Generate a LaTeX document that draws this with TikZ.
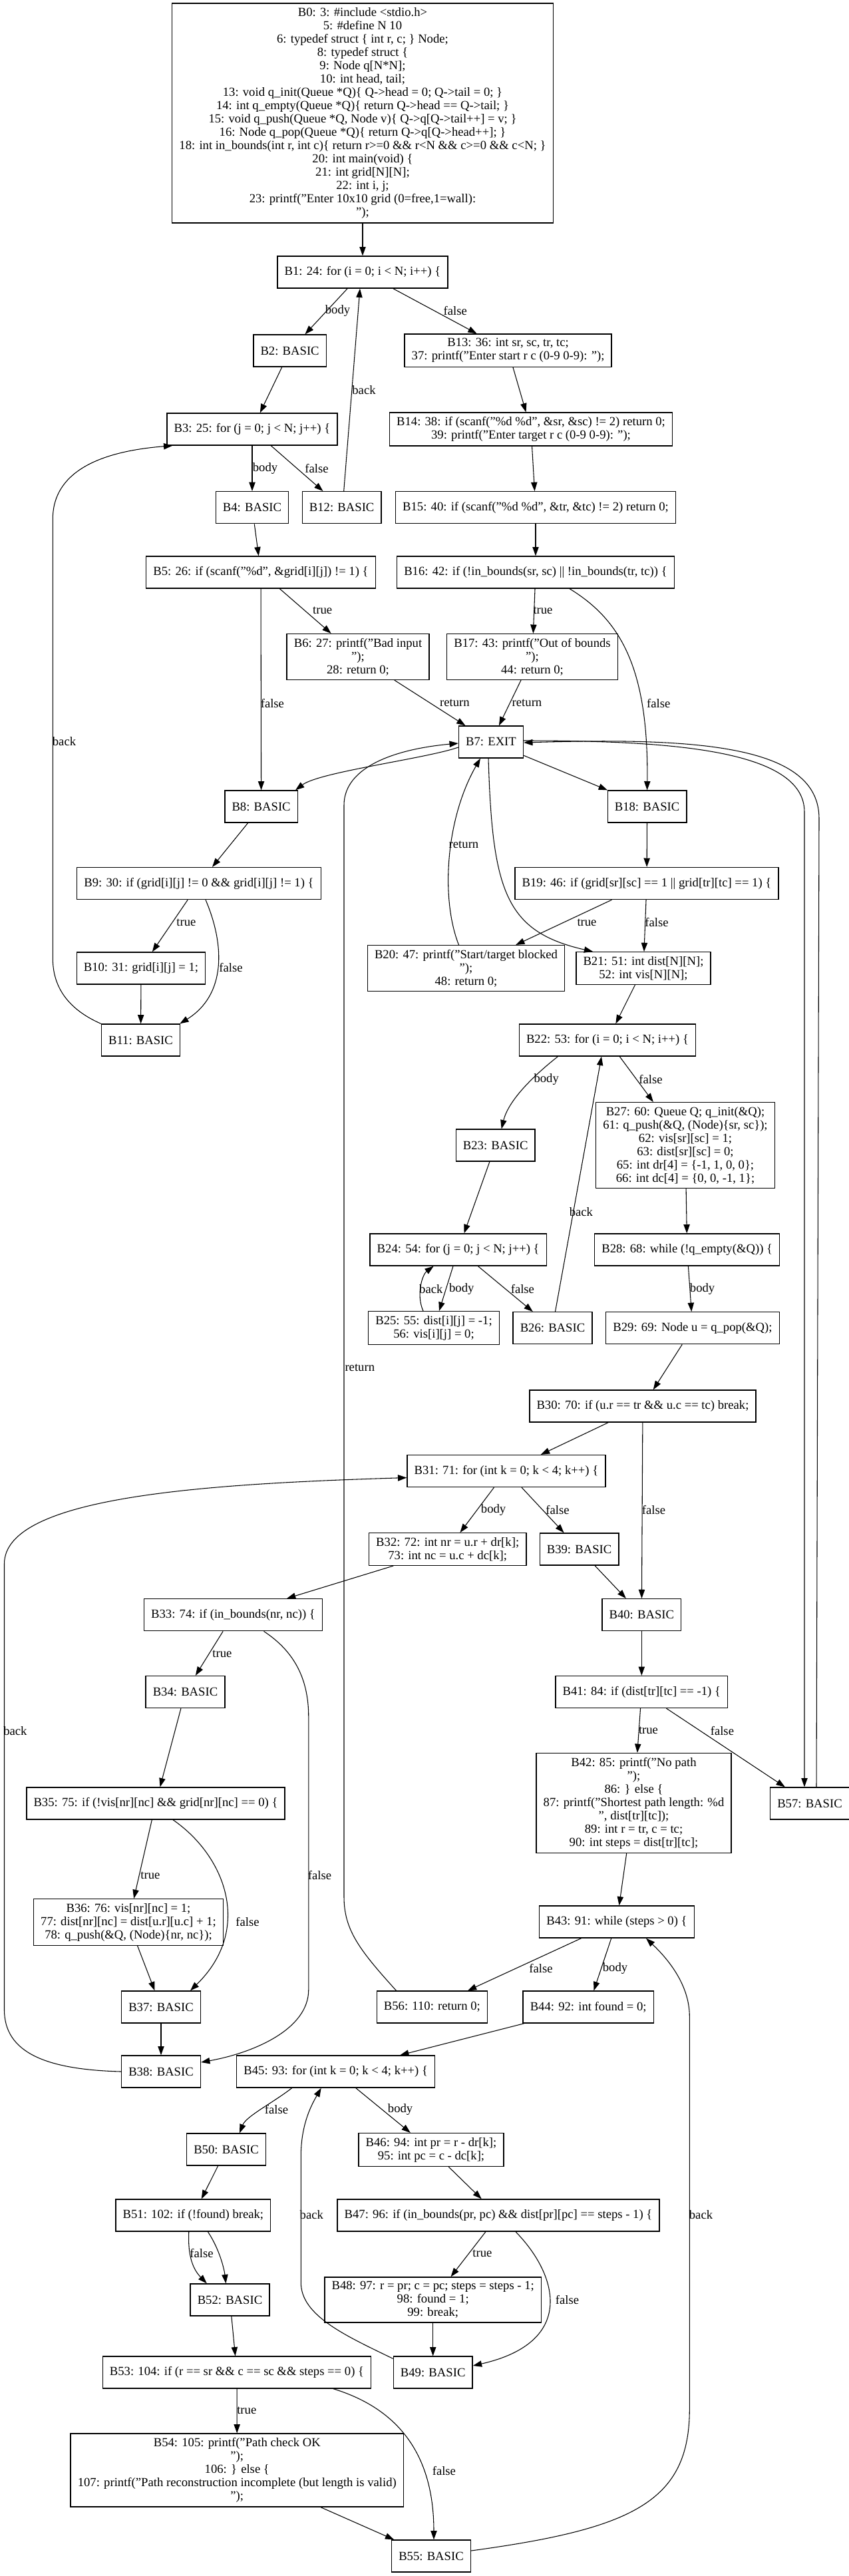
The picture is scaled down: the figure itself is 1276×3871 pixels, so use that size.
\documentclass[tikz,border=0pt]{standalone}
\usepackage{fontspec}
\setmainfont{Liberation Serif}
\usetikzlibrary{arrows.meta,calc}

\begin{document}
\begin{tikzpicture}[x=0.75pt,y=-0.75pt,
	blk/.style={draw,line width=1pt,rectangle,align=center,inner xsep=8pt,inner ysep=4.8pt,minimum height=36pt,minimum width=54pt,font=\fontsize{14pt}{15pt}\selectfont},
	flow/.style={line width=0.8pt,-{Triangle[length=10pt,width=7pt]}},
	lbl/.style={font=\fontsize{14pt}{15pt}\selectfont,inner sep=0pt}]
		\useasboundingbox (0,0) rectangle (1276,3871);
		\node[blk] (b0) at (545,170) {B0: 3: \#include <stdio.h>\\5: \#define N 10\\6: typedef struct \{ int r, c; \} Node;\\8: typedef struct \{\\9: Node q[N*N];\\10: int head, tail;\\13: void q\_init(Queue *Q)\{ Q->head = 0; Q->tail = 0; \}\\14: int q\_empty(Queue *Q)\{ return Q->head == Q->tail; \}\\15: void q\_push(Queue *Q, Node v)\{ Q->q[Q->tail++] = v; \}\\16: Node q\_pop(Queue *Q)\{ return Q->q[Q->head++]; \}\\18: int in\_bounds(int r, int c)\{ return r>=0 \&\& r<N \&\& c>=0 \&\& c<N; \}\\20: int main(void) \{\\21: int grid[N][N];\\22: int i, j;\\23: printf("Enter 10x10 grid (0=free,1=wall):\\");};
		\node[blk] (b1) at (545,409) {B1: 24: for (i = 0; i < N; i++) \{};
		\node[blk] (b2) at (435.6,527) {B2: BASIC};
		\node[blk] (b13) at (763.6,526.6) {B13: 36: int sr, sc, tr, tc;\\37: printf("Enter start r c (0-9 0-9): ");};
		\node[blk] (b3) at (379,645) {B3: 25: for (j = 0; j < N; j++) \{};
		\node[blk] (b14) at (798,645) {B14: 38: if (scanf("\%d \%d", \&sr, \&sc) != 2) return 0;\\39: printf("Enter target r c (0-9 0-9): ");};
		\node[blk] (b4) at (379,762.7) {B4: BASIC};
		\node[blk] (b12) at (513.7,762.7) {B12: BASIC};
		\node[blk] (b15) at (805,762.7) {B15: 40: if (scanf("\%d \%d", \&tr, \&tc) != 2) return 0;};
		\node[blk] (b5) at (392,860) {B5: 26: if (scanf("\%d", \&grid[i][j]) != 1) \{};
		\node[blk] (b16) at (805,860) {B16: 42: if (!in\_bounds(sr, sc) || !in\_bounds(tr, tc)) \{};
		\node[blk] (b6) at (538,987) {B6: 27: printf("Bad input\\");\\28: return 0;};
		\node[blk] (b17) at (800,987) {B17: 43: printf("Out of bounds\\");\\44: return 0;};
		\node[blk] (b7) at (738,1115) {B7: EXIT};
		\node[blk] (b8) at (392.6,1212) {B8: BASIC};
		\node[blk] (b18) at (972.6,1212) {B18: BASIC};
		\node[blk] (b9) at (299,1327.5) {B9: 30: if (grid[i][j] != 0 \&\& grid[i][j] != 1) \{};
		\node[blk] (b19) at (972,1327.5) {B19: 46: if (grid[sr][sc] == 1 || grid[tr][tc] == 1) \{};
		\node[blk] (b10) at (212,1455) {B10: 31: grid[i][j] = 1;};
		\node[blk] (b20) at (700.5,1455) {B20: 47: printf("Start/target blocked\\");\\48: return 0;};
		\node[blk] (b21) at (967,1455) {B21: 51: int dist[N][N];\\52: int vis[N][N];};
		\node[blk] (b11) at (211.5,1563) {B11: BASIC};
		\node[blk] (b22) at (913,1563) {B22: 53: for (i = 0; i < N; i++) \{};
		\node[blk] (b23) at (744.7,1721) {B23: BASIC};
		\node[blk] (b27) at (1030,1721) {B27: 60: Queue Q; q\_init(\&Q);\\61: q\_push(\&Q, (Node)\{sr, sc\});\\62: vis[sr][sc] = 1;\\63: dist[sr][sc] = 0;\\65: int dr[4] = \{-1, 1, 0, 0\};\\66: int dc[4] = \{0, 0, -1, 1\};};
		\node[blk] (b24) at (688.7,1878) {B24: 54: for (j = 0; j < N; j++) \{};
		\node[blk] (b28) at (1032.7,1878) {B28: 68: while (!q\_empty(\&Q)) \{};
		\node[blk] (b25) at (652,1995.5) {B25: 55: dist[i][j] = -1;\\56: vis[i][j] = 0;};
		\node[blk] (b26) at (830.5,1995.7) {B26: BASIC};
		\node[blk] (b29) at (1041,1995.7) {B29: 69: Node u = q\_pop(\&Q);};
		\node[blk] (b30) at (966,2113) {B30: 70: if (u.r == tr \&\& u.c == tc) break;};
		\node[blk] (b31) at (761,2210.5) {B31: 71: for (int k = 0; k < 4; k++) \{};
		\node[blk] (b32) at (672.7,2328) {B32: 72: int nr = u.r + dr[k];\\73: int nc = u.c + dc[k];};
		\node[blk] (b39) at (870.6,2328) {B39: BASIC};
		\node[blk] (b33) at (350.5,2426.7) {B33: 74: if (in\_bounds(nr, nc)) \{};
		\node[blk] (b40) at (964.3,2426.7) {B40: BASIC};
		\node[blk] (b34) at (278.5,2542.5) {B34: BASIC};
		\node[blk] (b41) at (964.3,2542.5) {B41: 84: if (dist[tr][tc] == -1) \{};
		\node[blk] (b35) at (234,2710) {B35: 75: if (!vis[nr][nc] \&\& grid[nr][nc] == 0) \{};
		\node[blk] (b42) at (952.5,2709.5) {B42: 85: printf("No path\\");\\86: \} else \{\\87: printf("Shortest path length: \%d\\", dist[tr][tc]);\\89: int r = tr, c = tc;\\90: int steps = dist[tr][tc];};
		\node[blk] (b57) at (1217,2710) {B57: BASIC};
		\node[blk] (b36) at (193,2888.5) {B36: 76: vis[nr][nc] = 1;\\77: dist[nr][nc] = dist[u.r][u.c] + 1;\\78: q\_push(\&Q, (Node)\{nr, nc\});};
		\node[blk] (b43) at (927,2888) {B43: 91: while (steps > 0) \{};
		\node[blk] (b37) at (242,3016) {B37: BASIC};
		\node[blk] (b56) at (649.4,3016) {B56: 110: return 0;};
		\node[blk] (b44) at (884.2,3016) {B44: 92: int found = 0;};
		\node[blk] (b38) at (242,3113) {B38: BASIC};
		\node[blk] (b45) at (504.7,3113) {B45: 93: for (int k = 0; k < 4; k++) \{};
		\node[blk] (b50) at (340,3230) {B50: BASIC};
		\node[blk] (b46) at (648,3230.5) {B46: 94: int pr = r - dr[k];\\95: int pc = c - dc[k];};
		\node[blk] (b51) at (290.4,3329) {B51: 102: if (!found) break;};
		\node[blk] (b47) at (749,3329) {B47: 96: if (in\_bounds(pr, pc) \&\& dist[pr][pc] == steps - 1) \{};
		\node[blk] (b48) at (650.7,3456) {B48: 97: r = pr; c = pc; steps = steps - 1;\\98: found = 1;\\99: break;};
		\node[blk] (b52) at (345.5,3456) {B52: BASIC};
		\node[blk] (b53) at (356,3565) {B53: 104: if (r == sr \&\& c == sc \&\& steps == 0) \{};
		\node[blk] (b49) at (650.7,3565) {B49: BASIC};
		\node[blk] (b54) at (356.3,3712) {B54: 105: printf("Path check OK\\");\\106: \} else \{\\107: printf("Path reconstruction incomplete (but length is valid)\\");};
		\node[blk] (b55) at (648,3841) {B55: BASIC};
		\draw[flow] (b0) -- (b1);
		\draw[flow] (b1) -- (b2) node[lbl] (lb1) at (507.5,466.7) {body};
		\draw[flow] (b1) -- (b13) node[lbl] (lb2) at (684.3,466.7) {false};
		\draw[flow] (b2) -- (b3);
		\draw[flow] (b3) -- (b4) node[lbl] (lb3) at (398.5,704.3) {body};
		\draw[flow] (b3) -- (b12) node[lbl] (lb4) at (476,704.3) {false};
		\draw[flow] ($(b12.north)+(3,0)$) -- ($(b1.south)+(-4,0)$) node[lbl] (lb5) at (547,585.7) {back};
		\draw[flow] (b13) -- (b14);
		\draw[flow] (b14) -- (b15);
		\draw[flow] (b15) -- (b16);
		\draw[flow] (b4) -- (b5);
		\draw[flow] (b5) -- (b6) node[lbl] (lb6) at (484.6,917.7) {true};
		\draw[flow] (b5) -- (b8) node[lbl] (lb7) at (409.4,1056.7) {false};
		\draw[flow] (b16) -- (b17) node[lbl] (lb8) at (816,917.7) {true};
		\draw[flow] ($(b16.south)+(51,0)$) .. controls (930,930) and (975,1000) .. (b18.north) node[lbl] (lb9) at (989.8,1056.7) {false};
		\draw[flow] (b6) -- (b7) node[lbl] (lb10) at (683.4,1056.7) {return};
		\draw[flow] (b17) -- (b7) node[lbl] (lb11) at (792,1056.7) {return};
		\draw[flow] ($(b7.west)+(0,8)$) .. controls (640,1140) and (480,1160) .. ($(b8.north east)+(-4,0)$);
		\draw[flow] (b7) -- (b18);
		\draw[flow] ($(b20.north)+(-11,0)$) .. controls (662,1350) and (670,1230) .. ($(b7.south)+(-16,0)$) node[lbl] (lb12) at (697,1269.3) {return};
		\draw[flow] ($(b7.south)+(-4,0)$) .. controls (740,1340) and (760,1400) .. ($(b21.north west)+(26,0)$);
		\draw[flow] ($(b7.east)+(0,-2)$) .. controls (1000,1113) and (1209,1125) .. (1209,1220) -- ($(b57.north)+(-8,0)$);
		\draw[flow] ($(b57.north)+(10,0)$) -- (1231,1230) .. controls (1231,1120) and (1050,1108) .. ($(b7.east)+(0,1)$);
		\draw[flow] (b8) -- (b9);
		\draw[flow] (b9) -- (b10) node[lbl] (lb13) at (280,1386) {true};
		\draw[flow] ($(b9.south)+(10,0)$) .. controls (338,1420) and (340,1495) .. ($(b11.north east)+(-1,0)$) node[lbl] (lb14) at (347,1454.3) {false};
		\draw[flow] (b10) -- (b11);
		\draw[flow] (b11.north west) .. controls (110,1520) and (79.3,1490) .. (79.3,1440) -- (79.3,780) .. controls (79.3,720) and (130,680) .. ($(b3.south west)+(9,0)$) node[lbl] (lb15) at (96.5,1114) {back};
		\draw[flow] (b18) -- (b19);
		\draw[flow] (b19) -- (b20) node[lbl] (lb16) at (882,1386) {true};
		\draw[flow] (b19) -- (b21) node[lbl] (lb17) at (987,1386) {false};
		\draw[flow] (b21) -- (b22);
		\draw[flow] ($(b22.south)+(-74.6,0)$) .. controls (810,1610) and (765,1650) .. ($(b23.north)+(9,0)$) node[lbl] (lb18) at (821.2,1621.7) {body};
		\draw[flow] (b22) -- (b27) node[lbl] (lb19) at (978,1621.7) {false};
		\draw[flow] (b23) -- (b24);
		\draw[flow] (b24) -- (b25) node[lbl] (lb20) at (693.8,1936.7) {body};
		\draw[flow] ($(b25.north)+(-16,0)$) .. controls (625,1945) and (635,1915) .. ($(b24.south)+(-37,0)$) node[lbl] (lb21) at (647.8,1936.7) {back};
		\draw[flow] (b24) -- (b26) node[lbl] (lb22) at (785.4,1936.7) {false};
		\draw[flow] ($(b26.north)+(4,0)$) -- ($(b22.south)+(-9,0)$) node[lbl] (lb23) at (873.4,1820.7) {back};
		\draw[flow] (b27) -- (b28);
		\draw[flow] (b28) -- (b29) node[lbl] (lb24) at (1055.6,1936.7) {body};
		\draw[flow] (b29) -- (b30);
		\draw[flow] (b30) -- (b31);
		\draw[flow] (b30) -- (b40) node[lbl] (lb25) at (982.5,2269) {false};
		\draw[flow] (b31) -- (b32) node[lbl] (lb26) at (741.6,2269) {body};
		\draw[flow] (b31) -- (b39) node[lbl] (lb27) at (838,2269) {false};
		\draw[flow] (b32) -- (b33);
		\draw[flow] (b39) -- (b40);
		\draw[flow] (b33) -- (b34) node[lbl] (lb28) at (334,2485) {true};
		\draw[flow] ($(b33.south)+(46,0)$) .. controls (440,2480) and (463.8,2520) .. (463.8,2580) -- (463.8,2990) .. controls (463.8,3050) and (380,3085) .. ($(b38.east)+(0,-14)$) node[lbl] (lb29) at (480.5,2818.3) {false};
		\draw[flow] (b34) -- (b35);
		\draw[flow] (b35) -- (b36) node[lbl] (lb30) at (226,2818.3) {true};
		\draw[flow] ($(b35.south)+(26,0)$) .. controls (340,2790) and (380,2900) .. ($(b37.north)+(44,0)$) node[lbl] (lb31) at (372,2888.3) {false};
		\draw[flow] (b36) -- (b37);
		\draw[flow] (b37) -- (b38);
		\draw[flow] (b38.west) .. controls (70,3110) and (6.5,3085) .. (6.5,3020) -- (6.5,2350) .. controls (6.5,2250) and (300,2230) .. ($(b31.west)+(0,10)$) node[lbl] (lb32) at (22.9,2600.7) {back};
		\draw[flow] (b40) -- (b41);
		\draw[flow] (b41) -- (b42) node[lbl] (lb33) at (974.5,2600.7) {true};
		\draw[flow] (b41) -- (b57) node[lbl] (lb34) at (1085.4,2600.7) {false};
		\draw[flow] (b42) -- (b43);
		\draw[flow] (b43) -- (b56) node[lbl] (lb35) at (813,2957.7) {false};
		\draw[flow] (b43) -- (b44) node[lbl] (lb36) at (924.5,2957.7) {body};
		\draw[flow] ($(b56.north west)+(30,0)$) .. controls (540,2930) and (517,2900) .. (517,2850) -- (517,1210) .. controls (517,1150) and (600,1125) .. ($(b7.west)+(0,2)$) node[lbl] (lb37) at (540.8,2055) {return};
		\draw[flow] (b44) -- (b45);
		\draw[flow] ($(b45.south)+(-66,0)$) .. controls (410,3160) and (370,3180) .. ($(b50.north)+(20,0)$) node[lbl] (lb38) at (415.5,3170) {false};
		\draw[flow] (b45) -- (b46) node[lbl] (lb39) at (601.6,3170) {body};
		\draw[flow] (b46) -- (b47);
		\draw[flow] (b47) -- (b48) node[lbl] (lb40) at (725,3386.7) {true};
		\draw[flow] ($(b47.south)+(26,0)$) .. controls (840,3420) and (865,3520) .. ($(b49.east)+(0,-10)$) node[lbl] (lb41) at (852.6,3456) {false};
		\draw[flow] (b48) -- (b49);
		\draw[flow] ($(b49.north west)+(0,4)$) .. controls (520,3510) and (452.3,3480) .. (452.3,3430) -- (452.3,3240) .. controls (452.3,3190) and (470,3160) .. ($(b45.south)+(-22,0)$) node[lbl] (lb42) at (468.3,3328.3) {back};
		\draw[flow] (b50) -- (b51);
		\draw[flow] ($(b51.south)+(-6.6,0)$) .. controls (282,3390) and (290,3410) .. ($(b52.north)+(-34.7,0)$) node[lbl] (lb43) at (303,3386) {false};
		\draw[flow] ($(b51.south)+(22,0)$) .. controls (330,3380) and (337,3410) .. ($(b52.north)+(-6,0)$);
		\draw[flow] (b52) -- (b53);
		\draw[flow] (b53) -- (b54) node[lbl] (lb44) at (370.8,3622.7) {true};
		\draw[flow] ($(b53.south)+(145,0)$) .. controls (600,3620) and (652,3690) .. ($(b55.north)+(4,0)$) node[lbl] (lb45) at (667.4,3712.7) {false};
		\draw[flow] (b54) -- (b55);
		\draw[flow] ($(b55.east)+(0,-8)$) .. controls (950,3800) and (1036.3,3760) .. (1036.3,3620) -- (1036.3,3030) .. controls (1036.3,2980) and (1000,2940) .. ($(b43.south)+(44,0)$) node[lbl] (lb46) at (1053.5,3328.3) {back};
	\end{tikzpicture}
\end{document}
